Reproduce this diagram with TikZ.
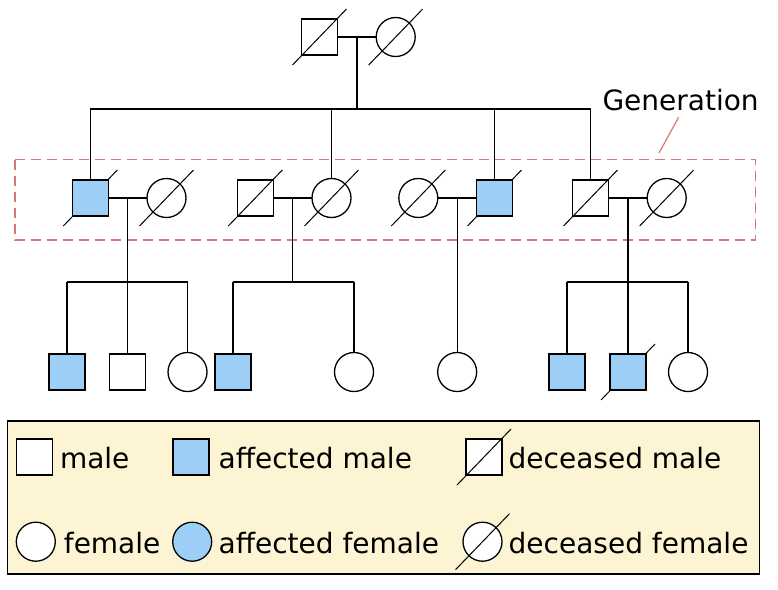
\documentclass[tikz,border=0pt]{standalone}
\usepackage{fontspec}
\setmainfont{DejaVu Sans}
\usetikzlibrary{positioning}
\definecolor{affblue}{RGB}{157,206,245}
\definecolor{legendbg}{RGB}{253,244,212}
\definecolor{genred}{RGB}{218,118,118}

\begin{document}
\begin{tikzpicture}[
    x=1pt, y=-1pt,
    node distance=38.7pt,
    every node/.style={font=\fontsize{28}{33}\selectfont},
    malenode/.style={draw,rectangle,fill=white,line width=1.3pt,minimum size=36pt,inner sep=0pt,outer sep=0pt},
    femalenode/.style={draw,circle,fill=white,line width=1.3pt,minimum size=39pt,inner sep=0pt,outer sep=0pt},
    affmalenode/.style={malenode,fill=affblue},
    afffemalenode/.style={femalenode,fill=affblue},
    textnode/.style={anchor=base west,inner sep=0pt},
    slashline/.style={line width=1pt},
    link/.style={line width=1.3pt},
    genframe/.style={draw=genred,line width=1.7pt,dash pattern=on 10pt off 6pt}
]
\useasboundingbox (0,0) rectangle (778,589);

% Generation frame
\draw[genframe] (15,159.5) rectangle (755.5,240);
\node[textnode] (gen) at (602.3,110.7) {Generation};
\coordinate (gentip) at (659,153);
\draw[genred,line width=1.2pt] (gen.south) ++(-2,6) -- (gentip);

% first generation
\node[malenode] (m1) at (319.5,37) {};
\node[femalenode,right=of m1] (f1) {};
\draw[slashline] (m1.center) ++(-27,28) -- ++(54,-56);
\draw[slashline] (f1.center) ++(-27,28) -- ++(54,-56);
\draw[link] (m1) -- coordinate[midway] (j1) (f1);
\draw[link] (j1) -- ++(0,72) coordinate (s1);

% second generation
\coordinate (p21) at (90.3,198);
\draw[slashline] (p21) ++(-27,28) -- ++(54,-56);
\node[affmalenode] (m21) at (p21) {};
\node[femalenode,right=of m21] (f21) {};
\draw[slashline] (f21.center) ++(-27,28) -- ++(54,-56);

\node[malenode] (m22) at (255.3,198) {};
\node[femalenode,right=of m22] (f22) {};
\draw[slashline] (m22.center) ++(-27,28) -- ++(54,-56);
\draw[slashline] (f22.center) ++(-27,28) -- ++(54,-56);

\coordinate (p23) at (494.5,198);
\draw[slashline] (p23) ++(-27,28) -- ++(54,-56);
\node[affmalenode] (m23) at (p23) {};
\node[femalenode,left=of m23] (f23) {};
\draw[slashline] (f23.center) ++(-27,28) -- ++(54,-56);

\node[malenode] (m24) at (590.5,198) {};
\node[femalenode,right=of m24] (f24) {};
\draw[slashline] (m24.center) ++(-27,28) -- ++(54,-56);
\draw[slashline] (f24.center) ++(-27,28) -- ++(54,-56);

% siblings of the second generation
\draw[link] (m21 |- s1) -- (m24 |- s1);
\draw[link] (m21 |- s1) -- (m21);
\draw[link] (f22 |- s1) -- (f22);
\draw[link] (m23 |- s1) -- (m23);
\draw[link] (m24 |- s1) -- (m24);

% couples
\draw[link] (m21) -- coordinate[midway] (j21) (f21);
\draw[link] (m22) -- coordinate[midway] (j22) (f22);
\draw[link] (f23) -- coordinate[midway] (j23) (m23);
\draw[link] (m24) -- coordinate[midway] (j24) (f24);
\draw[link] (j21) -- ++(0,84) coordinate (k21);
\draw[link] (j22) -- ++(0,84) coordinate (k22);
\draw[link] (j24) -- ++(0,84) coordinate (k24);

% third generation
\coordinate (row3) at (0,372);
\node[affmalenode] (c31) at (67,372) {};
\node[malenode,right=24.5pt of c31] (c32) {};
\node[femalenode,right=22.5pt of c32] (c33) {};
\draw[link] (c31 |- k21) -- (c33 |- k21);
\draw[link] (c31 |- k21) -- (c31);
\draw[link] (c32 |- k21) -- (c32);
\draw[link] (c33 |- k21) -- (c33);

\node[affmalenode] (c34) at (233,372) {};
\node[femalenode] (c35) at (354,372) {};
\draw[link] (c34 |- k22) -- (c35 |- k22);
\draw[link] (c34 |- k22) -- (c34);
\draw[link] (c35 |- k22) -- (c35);

\node[femalenode] (c36) at (j23 |- row3) {};
\draw[link] (j23) -- (c36);

\node[affmalenode] (c37) at (567,372) {};
\coordinate (p38) at (628,372);
\draw[slashline] (p38) ++(-27,28) -- ++(54,-56);
\node[affmalenode] (c38) at (p38) {};
\node[femalenode] (c39) at (688,372) {};
\draw[link] (c37 |- k24) -- (c39 |- k24);
\draw[link] (c37 |- k24) -- (c37);
\draw[link] (c38 |- k24) -- (c38);
\draw[link] (c39 |- k24) -- (c39);

% legend
\node[draw,fill=legendbg,line width=1.2pt,minimum width=752pt,minimum height=153pt,inner sep=0pt] (legend) at (383.5,497.5) {};
\node[malenode] (lm) at (34.7,457) {};
\node[affmalenode] (lam) at (191,457) {};
\node[malenode] (ldm) at (484,457) {};
\draw[slashline] (ldm.center) ++(-27,28) -- ++(54,-56);
\node[femalenode] (lf) at (35.8,541.7) {};
\node[afffemalenode] (laf) at (192.2,541.7) {};
\node[femalenode] (ldf) at (482.5,541.7) {};
\draw[slashline] (ldf.center) ++(-27,28) -- ++(54,-56);

\node[textnode] (tm) at (59.8,468.3) {male};
\node[textnode] (tam) at (218.4,468.3) {affected male};
\node[textnode] (tdm) at (508.5,468.3) {deceased male};
\node[textnode] (tf) at (63.7,553.3) {female};
\node[textnode] (taf) at (218.4,553.3) {affected female};
\node[textnode] (tdf) at (508.5,553.3) {deceased female};
\end{tikzpicture}
\end{document}
